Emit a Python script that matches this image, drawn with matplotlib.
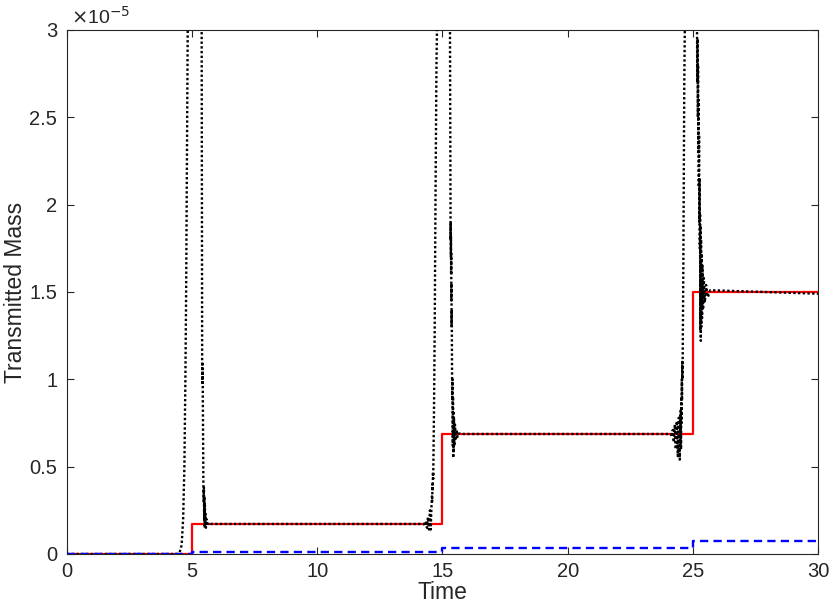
import numpy as np
import matplotlib.pyplot as plt
from matplotlib.ticker import FuncFormatter

plt.rcParams['font.family'] = ['Liberation Sans', 'DejaVu Sans']

# all masses are in units of 1e-5

# red: steady transmitted mass (steps)
red_t = [0, 5, 5, 15, 15, 25, 25, 30]
red_m = [0, 0, 0.172, 0.172, 0.687, 0.687, 1.50, 1.50]

# blue dashed: small transmitted mass (steps)
blue_t = [0, 5, 5, 15, 15, 25, 25, 30]
blue_m = [0, 0, 0.010, 0.010, 0.034, 0.034, 0.072, 0.072]

# black dotted: full transient
black_t = [
    0, 4.40, 4.50, 4.58, 4.64, 4.69, 4.73, 4.76, 4.79, 4.82, 4.85, 5.10, 5.36,
    5.38, 5.39, 5.40, 5.405, 5.41, 5.415, 5.42, 5.45,
    5.46, 5.47, 5.48, 5.49, 5.50, 5.51, 5.52, 5.53, 5.55, 5.57, 5.60, 5.65, 5.75,
    14.26, 14.30, 14.34, 14.38, 14.42, 14.46, 14.50, 14.53, 14.56,
    14.58, 14.59, 14.60, 14.61, 14.62, 14.63, 14.64, 14.66, 14.69, 14.72, 14.76, 14.78, 14.80,
    15.05, 15.28, 15.30, 15.31, 15.32,
    15.325, 15.33, 15.335, 15.34, 15.345, 15.35, 15.355, 15.36, 15.365, 15.37, 15.375,
    15.38, 15.385,
    15.39, 15.40, 15.41, 15.42, 15.43, 15.44, 15.45, 15.46, 15.48, 15.50, 15.53, 15.56, 15.60, 15.66, 15.75,
    24.12, 24.16, 24.20, 24.24, 24.28, 24.32, 24.36, 24.40, 24.44, 24.48, 24.51, 24.53,
    24.54, 24.55, 24.56, 24.57, 24.58, 24.59, 24.60, 24.62, 24.64, 24.66, 24.68, 24.70,
    24.95, 25.15, 25.17,
    25.18, 25.19, 25.20, 25.21, 25.22, 25.23, 25.24, 25.25, 25.26, 25.27, 25.28, 25.29,
    25.30, 25.31, 25.32, 25.33, 25.34, 25.35, 25.37, 25.39, 25.41, 25.44, 25.48, 25.53,
    25.60, 25.70, 30,
]
black_m = [
    0, 0, 0.01, 0.05, 0.20, 0.50, 1.00, 1.50, 2.20, 3.00, 3.50, 15.0, 3.50,
    3.00, 2.00, 1.10, 0.98, 1.10, 0.98, 1.05, 0.38,
    0.30, 0.38, 0.20, 0.33, 0.15, 0.28, 0.16, 0.23, 0.15, 0.20, 0.16, 0.18, 0.172,
    0.172, 0.16, 0.19, 0.15, 0.21, 0.14, 0.25, 0.14, 0.27,
    0.33, 0.30, 0.40, 0.36, 0.47, 0.43, 0.56, 0.80, 1.30, 2.00, 2.80, 3.00, 3.50,
    15.0, 3.50, 3.00, 2.50, 1.91,
    1.80, 1.90, 1.70, 1.82, 1.60, 1.72, 1.45, 1.55, 1.30, 1.40, 1.20,
    1.10, 1.00,
    0.88, 1.00, 0.62, 0.90, 0.55, 0.82, 0.58, 0.78, 0.62, 0.74, 0.65, 0.71, 0.67, 0.69, 0.687,
    0.687, 0.67, 0.71, 0.64, 0.74, 0.60, 0.76, 0.56, 0.78, 0.54, 0.82, 0.60,
    0.90, 0.75, 1.00, 0.88, 1.10, 1.00, 1.20, 1.60, 2.20, 2.70, 3.00, 3.50,
    15.0, 3.50, 3.00,
    2.70, 2.95, 2.50, 2.80, 2.30, 2.60, 2.10, 2.40, 1.90, 2.15, 1.75, 1.95,
    1.28, 1.88, 1.22, 1.80, 1.30, 1.72, 1.35, 1.65, 1.40, 1.58, 1.44, 1.54,
    1.47, 1.51, 1.49,
]

fig = plt.figure(figsize=(8.3, 6.11), dpi=100)
ax = fig.add_axes([0.0807, 0.0933, 0.9048, 0.8577])

ax.plot(red_t, red_m, color='red', linewidth=1.6, zorder=2)
ax.plot(black_t, black_m, color='black', linestyle=(0, (1, 1)), linewidth=1.7, zorder=3)
ax.plot(blue_t, blue_m, color='blue', linestyle=(0, (3.5, 2.2)), linewidth=1.7, zorder=4)

ax.set_xlim(0, 30)
ax.set_ylim(0, 3)
ax.set_xticks([0, 5, 10, 15, 20, 25, 30])
ax.set_yticks([0, 0.5, 1, 1.5, 2, 2.5, 3])
ax.yaxis.set_major_formatter(FuncFormatter(lambda v, p: '%g' % v))

axcol = '#262626'
for s in ax.spines.values():
    s.set_color(axcol)
    s.set_linewidth(0.8)
ax.tick_params(direction='in', top=True, right=True, length=5, width=0.8,
               color=axcol, labelcolor=axcol, labelsize=14.5)
ax.tick_params(axis='x', pad=6)
ax.tick_params(axis='y', pad=7)

ax.set_xlabel('Time', fontsize=16.5, color=axcol, labelpad=0)
ax.set_ylabel('Transmitted Mass', fontsize=16.5, color=axcol, labelpad=2)

fig.text(0.0855, 0.955, r'$\times$10$^{\mathsf{-5}}$', fontsize=14, color=axcol,
         ha='left', va='bottom')

fig.savefig('out.png', dpi=100)
